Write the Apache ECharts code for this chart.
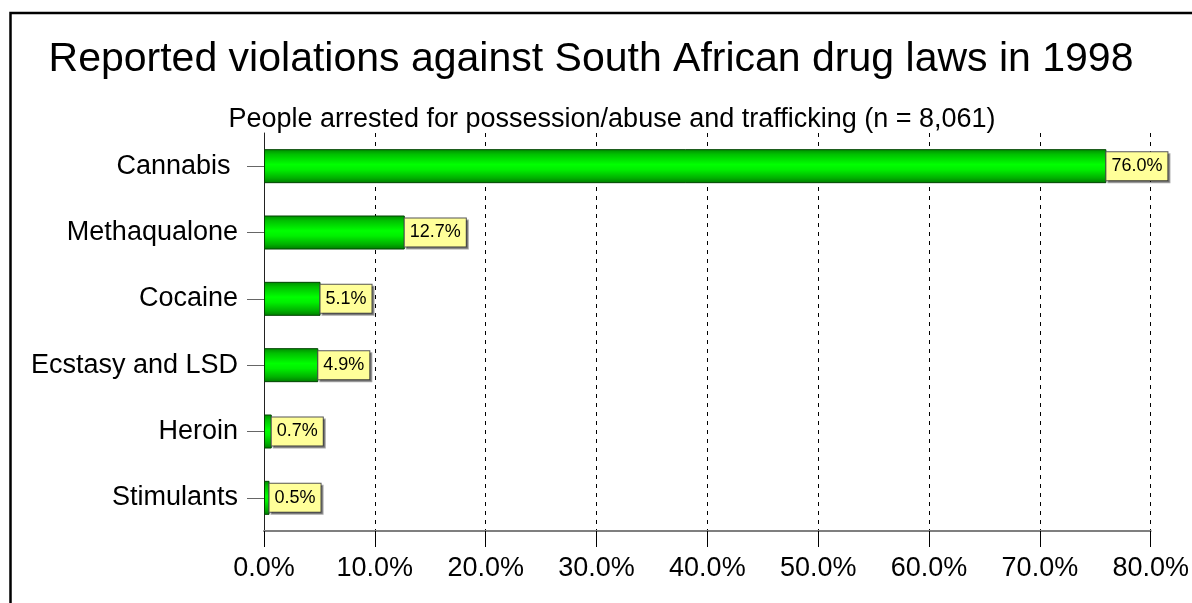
<!DOCTYPE html>
<html>
<head>
<meta charset="utf-8">
<script src="https://cdn.jsdelivr.net/npm/echarts@6/dist/echarts.min.js"></script>
<style>
html,body{margin:0;padding:0;background:#fff;}
#chart{width:1192px;height:603px;}
</style>
</head>
<body>
<div id="chart"></div>
<script>
var titleText = 'Reported violations against South African drug laws in 1998';
var subtitleText = 'People arrested for possession/abuse and trafficking (n = 8,061)';
var categories = ['Cannabis ', 'Methaqualone', 'Cocaine', 'Ecstasy and LSD', 'Heroin', 'Stimulants'];
var values = [76.0, 12.7, 5.1, 4.9, 0.7, 0.5];
var xMin = 0, xMax = 80, xStep = 10;

var chart = echarts.init(document.getElementById('chart'), null, {renderer: 'canvas'});
var FONT = 'Liberation Sans, Arial, sans-serif';
chart.setOption({
  backgroundColor: '#ffffff',
  animation: false,
  title: [
    {text: titleText, left: 586, top: 34, textAlign: 'center',
     textStyle: {fontFamily: FONT, fontSize: 41, fontWeight: 'normal', color: '#000'}},
    {text: subtitleText, left: 607, top: 101, textAlign: 'center',
     textStyle: {fontFamily: FONT, fontSize: 27, fontWeight: 'normal', color: '#000'}}
  ],
  graphic: [{
    type: 'polyline', silent: true,
    shape: {points: [[10.5, 603], [10.5, 13], [1192, 13]]},
    style: {stroke: '#000', lineWidth: 2.5, fill: null}
  }],
  grid: {left: 264, right: 35, top: 133, bottom: 72, containLabel: false},
  xAxis: {
    type: 'value', min: xMin, max: xMax, interval: xStep,
    axisLine: {show: true, lineStyle: {color: '#7f7f7f', width: 2}},
    axisTick: {show: true, length: 16, lineStyle: {color: '#000', width: 1}},
    axisLabel: {fontFamily: FONT, fontSize: 27, color: '#000', margin: 24,
      formatter: function (v) { return v.toFixed(1) + '%'; }},
    splitLine: {show: true, lineStyle: {color: '#000', width: 1, type: [4, 5]}}
  },
  yAxis: {
    type: 'category', data: categories, inverse: true,
    axisLine: {show: true, lineStyle: {color: '#222', width: 1}},
    axisTick: {show: true, alignWithLabel: true, length: 17, lineStyle: {color: '#666', width: 1}},
    axisLabel: {fontFamily: FONT, fontSize: 27, color: '#000', margin: 26},
    splitLine: {show: false}
  },
  series: [{
    type: 'bar',
    data: values,
    barWidth: 34,
    itemStyle: {
      color: new echarts.graphic.LinearGradient(0, 0, 0, 1, [
        {offset: 0, color: '#008a00'},
        {offset: 0.15, color: '#00c000'},
        {offset: 0.45, color: '#00ff00'},
        {offset: 0.6, color: '#00f000'},
        {offset: 0.85, color: '#00b000'},
        {offset: 1, color: '#007a00'}
      ]),
      borderColor: '#004400', borderWidth: 1
    },
    label: {
      show: true, position: 'right', distance: 0,
      fontFamily: FONT, fontSize: 18, color: '#000', lineHeight: 19,
      backgroundColor: '#ffff99', borderColor: '#555', borderWidth: 1,
      padding: [5, 5, 4, 5],
      shadowColor: 'rgba(0,0,0,0.35)', shadowOffsetX: 2, shadowOffsetY: 2, shadowBlur: 0,
      formatter: function (p) { return p.value.toFixed(1) + '%'; }
    }
  }]
});
</script>
</body>
</html>
